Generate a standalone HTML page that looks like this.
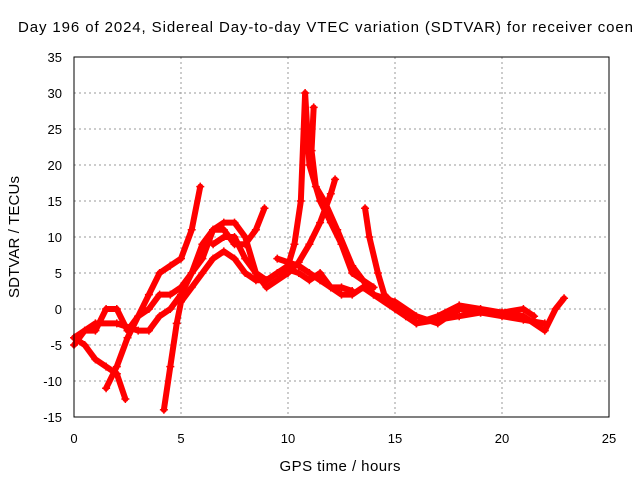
<!DOCTYPE html>
<html><head><meta charset="utf-8"><style>
body{margin:0;background:#fff;width:640px;height:480px;overflow:hidden}
svg{font-family:"Liberation Sans",sans-serif;font-size:13px}
</style></head><body>
<svg id="chart" width="640" height="480" xmlns="http://www.w3.org/2000/svg">
<text x="18" y="32" font-size="15" textLength="615" lengthAdjust="spacing">Day 196 of 2024, Sidereal Day-to-day VTEC variation (SDTVAR) for receiver coen</text>
<g id="grid"></g>
<g id="series"></g>
<rect x="74" y="57" width="535" height="360" fill="none" stroke="#000" stroke-width="1"/>
<g id="ticks"></g>
<text x="340" y="471" text-anchor="middle" font-size="15" textLength="121">GPS time / hours</text>
<text transform="translate(19,237) rotate(-90)" text-anchor="middle" font-size="15" textLength="122">SDTVAR / TECUs</text>
</svg>
<script>
const xTicks=[0,5,10,15,20,25];
const yTicks=[-15,-10,-5,0,5,10,15,20,25,30,35];
const trackA=[[0,-5],[0.5,-3],[1,-3],[1.5,0],[2,0],[2.5,-3],[3,-1],[3.5,2],[4,5],[4.5,6],[5,7],[5.5,11],[5.9,17]];
const trackB=[[0,-4],[0.5,-5],[1,-7],[1.5,-8],[2,-9],[2.4,-12.5]];
const trackC=[[1.5,-11],[2,-8],[2.5,-4],[3,-1],[3.5,0],[4,2],[4.5,2],[5,3],[5.5,5],[6,7],[6.5,11],[7,12],[7.5,12],[8,10],[8.5,5],[9,3],[10,5],[10.5,6.5],[11,9],[11.5,12],[12,16],[12.2,18]];
const trackD=[[4.2,-14],[4.5,-8],[4.8,-2],[5,1],[5.5,3],[6,5],[6.5,7],[7,8],[7.5,7],[8,5],[8.5,4],[9,4],[9.5,5],[10,5.5],[10.5,5],[11,4],[11.5,5],[12,3],[12.5,2],[13,2],[13.5,3],[14,2],[15,0],[15.5,-1],[16,-2],[17,-1.5],[18,-1],[19,-0.5],[20,-0.5],[21,-1],[22,-3],[22.5,0],[22.9,1.5]];
const trackE=[[0,-4],[1,-2],[2,-2],[3,-3],[3.5,-3],[4,-1],[4.5,0],[5,2],[5.5,5],[6,9],[6.5,11],[7,11],[7.5,9],[8,9],[8.5,11],[8.9,14]];
const trackF=[[6.5,9],[7,10],[7.5,10],[8,7],[8.5,5],[9,4],[9.5,5],[10,6],[10.3,9],[10.6,15],[10.8,30],[11,20],[11.5,15],[12,12],[12.5,9],[13,5],[13.5,4],[14,2],[15,1],[16,-1],[17,-2],[18,0],[19,-0.5],[20,-1],[21,-1.5],[22,-2]];
const trackG=[[11.2,28],[11.1,22],[11.3,17],[11.7,15],[12.3,11],[13,6],[13.5,4],[14,3]];
const trackH=[[13.6,14],[13.8,10],[14.2,5],[14.5,2],[15,0.5],[16,-2],[17,-1],[18,0.5],[19,0],[20,-0.5],[21,0],[21.5,-1]];
const trackI=[[9.5,7],[10.5,6],[11,5],[11.5,4],[12,3],[12.5,3],[13,2.5]];
const tracks=[trackA,trackB,trackC,trackD,trackE,trackF,trackG,trackH,trackI];
const NS="http://www.w3.org/2000/svg";
const X=v=>74+v*(535/25), Y=v=>417-(v+15)*(360/50);
const grid=document.getElementById('grid'),ticks=document.getElementById('ticks'),ser=document.getElementById('series');
function mk(t,a,p){const e=document.createElementNS(NS,t);for(const k in a)e.setAttribute(k,a[k]);p.appendChild(e);return e;}
xTicks.forEach(v=>{
 const g=mk('line',{x1:X(v),x2:X(v),y1:57,y2:417,stroke:'#999','stroke-dasharray':'2,3'},grid);
 
 
 const t=mk('text',{x:X(v),y:443,'text-anchor':'middle'},ticks);t.textContent=v;
 
 
});
yTicks.forEach(v=>{
 const g=mk('line',{x1:74,x2:609,y1:Y(v),y2:Y(v),stroke:'#999','stroke-dasharray':'2,3'},grid);
 
 
 const t=mk('text',{x:62,y:Y(v)+5,'text-anchor':'end'},ticks);t.textContent=v;
 
 
});
tracks.forEach(tr=>{
 const p=mk('polyline',{points:tr.map(d=>X(d[0])+','+Y(d[1])).join(' '),fill:'none',stroke:'#f00','stroke-width':6,'stroke-linejoin':'round','stroke-linecap':'round'},ser);
 
 
 tr.forEach(d=>{
  const m=mk('path',{d:`M${X(d[0])-4},${Y(d[1])}h8M${X(d[0])},${Y(d[1])-4}v8`,stroke:'#f00','stroke-width':1.5},ser);
  
  
 });
});
</script>
</body></html>
